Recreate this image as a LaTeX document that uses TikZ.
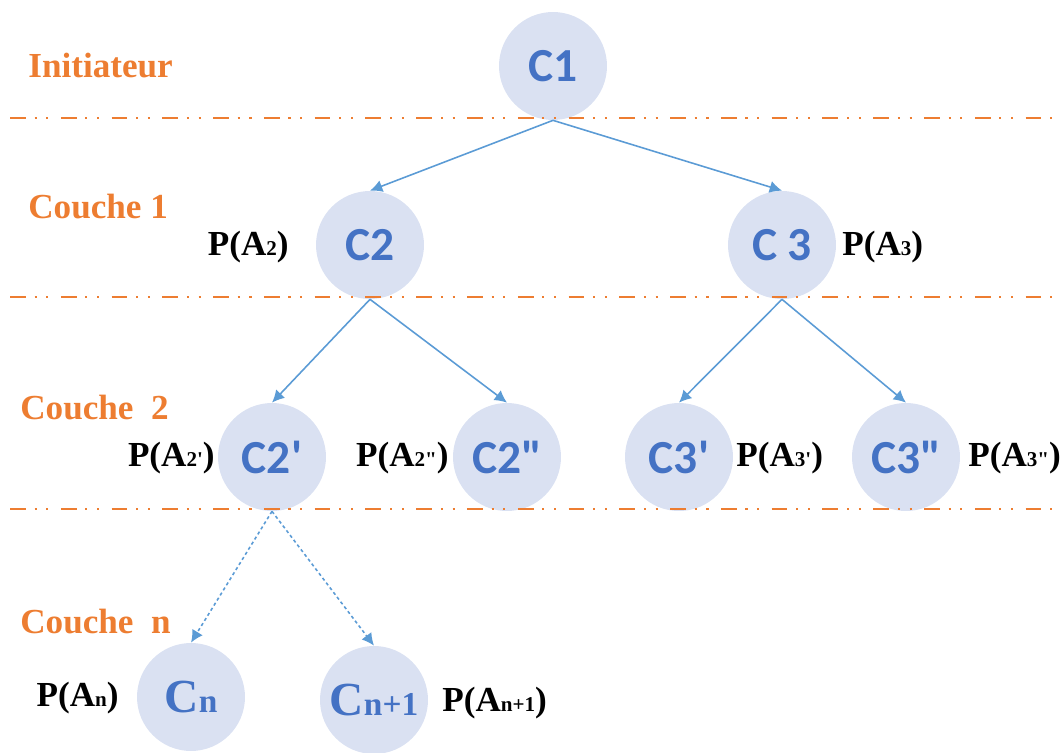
\documentclass[tikz,border=0pt]{standalone}
\usepackage{fontspec}
\usetikzlibrary{arrows.meta}
\newfontfamily\nodefont[Ligatures=TeXOff]{Carlito}
\newfontfamily\labfont[Ligatures=TeXOff]{Liberation Serif}
\definecolor{coucheorange}{HTML}{ED7D31}
\definecolor{noeudbleu}{HTML}{4472C4}
\definecolor{noeudfond}{HTML}{DAE1F2}
\definecolor{lienbleu}{HTML}{5B9BD5}
\newcommand{\ind}[1]{{\fontsize{12}{12}\selectfont #1}}
\newcommand{\indc}[1]{{\fontsize{19}{19}\selectfont #1}}
\begin{document}
\begin{tikzpicture}[>={Latex[length=7pt,width=7pt]},x=0.02cm,y=-0.02cm,
	cercle/.style={circle,fill=noeudfond,minimum size=2.16cm,inner sep=0pt,text=noeudbleu,font=\nodefont\bfseries\fontsize{27}{30}\selectfont},
	couche/.style={anchor=west,inner sep=0pt,text=coucheorange,font=\labfont\bfseries\fontsize{20}{24}\selectfont},
	proba/.style={inner sep=0pt,font=\labfont\bfseries\fontsize{20}{24}\selectfont},
	separe/.style={draw=coucheorange,line width=1.7pt,line cap=butt,dash pattern=on 9pt off 5pt on 1.2pt off 5.5pt on 1.2pt off 7pt},
	lien/.style={->,draw=lienbleu,line width=0.9pt}]
	\useasboundingbox (0,0) rectangle (1062,753);
	\node[cercle] (c1) at (553,66) {C1};
	\node[cercle] (c2) at (370,245) {C2};
	\node[cercle] (c3) at (782,245) {C 3};
	\node[cercle] (c2a) at (272,457) {C2'};
	\node[cercle] (c2b) at (507,457) {C2"};
	\node[cercle] (c3a) at (679,457) {C3'};
	\node[cercle] (c3b) at (906,457) {C3"};
	\node[cercle,font=\labfont\bfseries\fontsize{27}{30}\selectfont] (cn) at (191,697) {C\indc{n}};
	\node[cercle,font=\labfont\bfseries\fontsize{27}{30}\selectfont] (cn1) at (374,700) {C\indc{n+1}};
	\draw[separe] (10,118)--(1058,118) (10,297)--(1058,297) (10,509)--(1058,509);
	\node[couche] (init) at (28,66) {Initiateur};
	\node[couche] (couche1) at (28,207) {Couche 1};
	\node[couche] (couche2) at (20,408) {Couche\hspace{0.5em}2};
	\node[couche] (couchen) at (20,622) {Couche\hspace{0.5em}n};
	\node[proba,anchor=east] (p2) at (289,247) {P(A\ind{2})};
	\node[proba,anchor=west] (p3) at (842,247) {P(A\ind{3})};
	\node[proba,anchor=east] (p2a) at (215,458) {P(A\ind{2'})};
	\node[proba,anchor=east] (p2b) at (449,458) {P(A\ind{2"})};
	\node[proba,anchor=west] (p3a) at (736,458) {P(A\ind{3'})};
	\node[proba,anchor=west] (p3b) at (968,458) {P(A\ind{3"})};
	\node[proba,anchor=east] (pn) at (119,698) {P(A\ind{n})};
	\node[proba,anchor=west] (pn1) at (442,703) {P(A\ind{n+1})};
	\draw[lien] (c1.south)--(c2.north);
	\draw[lien] (c1.south)--(c3.north);
	\draw[lien] (c2.south)--(c2a.north);
	\draw[lien] (c2.south)--(c2b.north);
	\draw[lien] (c3.south)--(c3a.north);
	\draw[lien] (c3.south)--(c3b.north);
	\draw[lien,dash pattern=on 1.8pt off 1.6pt] (c2a.south)--(cn.north);
	\draw[lien,dash pattern=on 1.8pt off 1.6pt] (c2a.south)--(cn1.north);
\end{tikzpicture}
\end{document}
